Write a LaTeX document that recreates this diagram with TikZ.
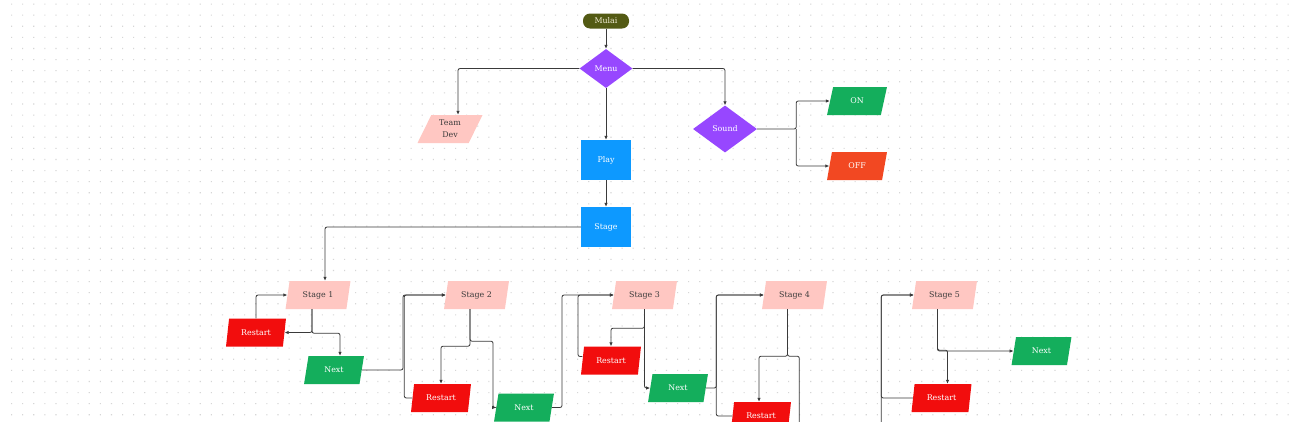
\documentclass[tikz,border=0pt]{standalone}
\usepackage{fontspec}
\setmainfont{DejaVu Serif}
\usetikzlibrary{shapes.geometric,arrows.meta}

\definecolor{startolive}{HTML}{535A14}
\definecolor{starttext}{HTML}{F3EED6}
\definecolor{menupurple}{HTML}{9747FF}
\definecolor{playblue}{HTML}{0D99FF}
\definecolor{stagepink}{HTML}{FFC7C2}
\definecolor{nextgreen}{HTML}{14AE5C}
\definecolor{restartred}{HTML}{F20D0D}
\definecolor{offorange}{HTML}{F24822}
\definecolor{textgray}{HTML}{3B3B3B}
\definecolor{linegray}{HTML}{3A3A3A}
\definecolor{dotgray}{HTML}{D6D6D6}

\begin{document}
\begin{tikzpicture}[x=1pt,y=-1pt,
	box/.style={draw=none,inner sep=0pt,font=\fontsize{7.9}{9.5}\selectfont,text=white},
	para/.style={box,trapezium,trapezium left angle=74,trapezium right angle=106,trapezium stretches=true,minimum width=60pt,minimum height=28pt},
	stagebox/.style={para,fill=stagepink,text=textgray,minimum width=65pt},
	nextbox/.style={para,fill=nextgreen},
	restartbox/.style={para,fill=restartred},
	decision/.style={box,diamond,fill=menupurple},
	process/.style={box,rectangle,fill=playblue,minimum width=50pt,minimum height=40pt},
	flow/.style={draw=linegray,line width=0.8pt,rounded corners=2pt,-{Latex[length=4pt,width=3.5pt]}},
	wire/.style={flow,-}]
		\useasboundingbox (0,0) rectangle (1289,421);
		\fill[white] (0,0) rectangle (1289,421);
		\fill[dotgray] \foreach \i in {0,...,115}{\foreach \j in {0,...,37}{(11+11.1*\i,3.5+11.1*\j) rectangle ++(1.1,1.1)}};
		
		\node[box,rectangle,rounded corners=7pt,fill=startolive,text=starttext,minimum width=46pt,minimum height=15pt] (Mulai) at (606,21){Mulai};
		\node[decision,minimum width=53pt,minimum height=39pt] (Menu) at (606,68.5){Menu};
		\node[para,fill=stagepink,text=textgray,align=center,trapezium left angle=66,trapezium right angle=114,minimum width=65pt] (TeamDev) at (450,129){Team\\[2.5pt]Dev};
		\node[process] (Play) at (606,160){Play};
		\node[decision,minimum width=64pt,minimum height=47pt] (Sound) at (725,129){Sound};
		\node[nextbox] (ON) at (857,101){ON};
		\node[para,fill=offorange] (OFF) at (857,166){OFF};
		\node[process] (Stage) at (606,227){Stage};
		
		\node[stagebox] (Stage1) at (318,295){Stage 1};
		\node[stagebox] (Stage2) at (476.5,295){Stage 2};
		\node[stagebox] (Stage3) at (644.5,295){Stage 3};
		\node[stagebox] (Stage4) at (794.5,295){Stage 4};
		\node[stagebox] (Stage5) at (944.5,295){Stage 5};
		
		\node[restartbox] (Restart1) at (256,332.5){Restart};
		\node[nextbox] (Next1) at (334,370){Next};
		\node[restartbox] (Restart2) at (441,398){Restart};
		\node[nextbox] (Next2) at (524,407.5){Next};
		\node[restartbox] (Restart3) at (611,360.5){Restart};
		\node[nextbox] (Next3) at (678,388){Next};
		\node[restartbox] (Restart4) at (761,416){Restart};
		\node[nextbox] (Next5) at (1041.5,351){Next};
		\node[restartbox] (Restart5) at (941.5,398){Restart};
		
		\coordinate (bus2) at (403,0);
		\coordinate (bus2b) at (404.3,0);
		\coordinate (bus3) at (562,0);
		\coordinate (bus3b) at (578,0);
		\coordinate (bus4) at (716.3,0);
		\coordinate (below4) at (799.3,440);
		\coordinate (below5) at (881.3,440);
		
		\draw[flow] (Mulai.south) -- (Menu.north);
		\draw[flow] (Menu.west) -| ([xshift=8pt]TeamDev.north);
		\draw[flow] (Menu.east) -| (Sound.north);
		\draw[flow] (Menu.south) -- (Play.north);
		\draw[flow] (Sound.east) -- ++(39,0) coordinate (soundsplit) |- (ON.west);
		\draw[flow] (soundsplit) |- (OFF.west);
		\draw[flow] (Play.south) -- (Stage.north);
		\draw[flow] (Stage.west) -| ([xshift=7pt]Stage1.north);
		
		\draw[flow] ([xshift=-6pt]Stage1.south) |- (Restart1.east);
		\draw[flow] ([xshift=-6pt]Stage1.south) -- ++(0,24) -| ([xshift=6pt]Next1.north);
		\draw[flow] (Restart1.north) |- (Stage1.west);
		
		\draw[flow] (Next1.east) -- (Next1.east -| bus2) |- (Stage2.west);
		\draw[flow] (Restart2.west) -- (Restart2.west -| bus2b) |- (Stage2.west);
		\draw[flow] ([xshift=-6.5pt]Stage2.south) -- ++(0,37) -| (Restart2.north);
		\draw[flow] ([xshift=-6.5pt]Stage2.south) -- ++(0,32) -- ++(23,0) |- (Next2.west);
		
		\draw[flow] (Next2.east) -- (Next2.east -| bus3) |- (Stage3.west);
		\draw[flow] ([yshift=4pt]Restart3.west) -- ([yshift=4pt]Restart3.west -| bus3b) |- (Stage3.west);
		\draw[flow] (Stage3.south) -- ++(0,19) -| (Restart3.north);
		\draw[flow] (Stage3.south) |- (Next3.west);
		
		\draw[flow] (Next3.east) -- (Next3.east -| bus4) |- (Stage4.west);
		\draw[flow] (Restart4.west) -- (Restart4.west -| bus4) |- (Stage4.west);
		\draw[flow] ([xshift=-7pt]Stage4.south) -- ++(0,47) -| ([xshift=-2pt]Restart4.north);
		\draw[wire] ([xshift=-7pt]Stage4.south) -- ++(0,47) -| (below4);
		
		\draw[flow] (below5) |- (Stage5.west);
		\draw[flow] (Restart5.west) -- (Restart5.west -| below5) |- (Stage5.west);
		\draw[flow] ([xshift=-7pt]Stage5.south) |- (Next5.west);
		\draw[flow] ([xshift=-7pt]Stage5.south) -- ++(0,41) -| ([xshift=6pt]Restart5.north);
	\end{tikzpicture}
\end{document}
